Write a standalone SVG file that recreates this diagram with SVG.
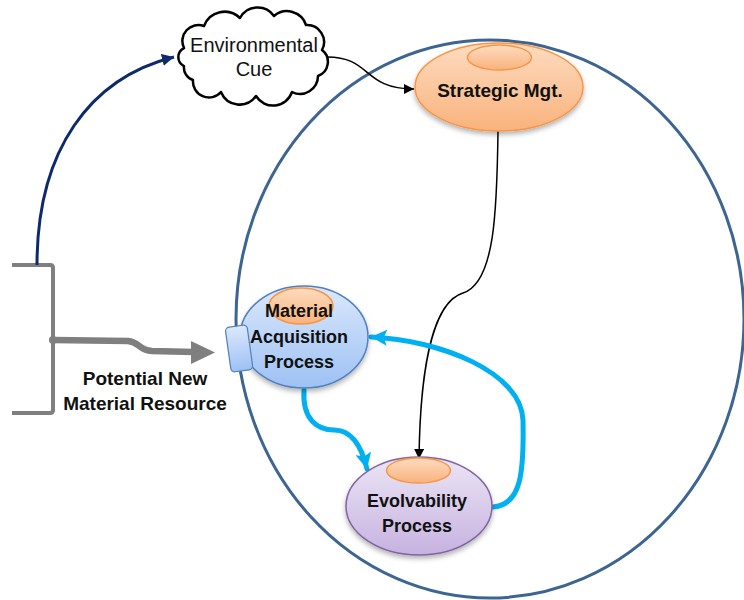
<svg xmlns="http://www.w3.org/2000/svg" width="744" height="600" viewBox="0 0 744 600">
  <defs>
    <linearGradient id="gOrange" x1="0" y1="0" x2="0" y2="1">
      <stop offset="0" stop-color="#fddcc0"/>
      <stop offset="1" stop-color="#f9b27c"/>
    </linearGradient>
    <linearGradient id="gBlue" x1="0" y1="0" x2="0" y2="1">
      <stop offset="0" stop-color="#dbe8fb"/>
      <stop offset="1" stop-color="#9dc1f4"/>
    </linearGradient>
    <linearGradient id="gPurple" x1="0" y1="0" x2="0" y2="1">
      <stop offset="0" stop-color="#ece5f5"/>
      <stop offset="1" stop-color="#c6b2e0"/>
    </linearGradient>
    <filter id="shadow" x="-20%" y="-20%" width="140%" height="150%">
      <feDropShadow dx="0" dy="3" stdDeviation="2.5" flood-color="#000" flood-opacity="0.3"/>
    </filter>
    <marker id="mBlack" viewBox="0 0 10 10" refX="10" refY="5" markerWidth="10" markerHeight="10" markerUnits="userSpaceOnUse" orient="auto">
      <path d="M0,0 L10,5 L0,10 z" fill="#000"/>
    </marker>
    <marker id="mNavy" viewBox="0 0 10 10" refX="10" refY="5" markerWidth="12" markerHeight="12" markerUnits="userSpaceOnUse" orient="auto">
      <path d="M0,0 L10,5 L0,10 z" fill="#0d2a6b"/>
    </marker>
    <marker id="mCyan" viewBox="0 0 10 10" refX="10" refY="5" markerWidth="16" markerHeight="16" markerUnits="userSpaceOnUse" orient="auto">
      <path d="M0,0 L10,5 L0,10 L2,5 z" fill="#00b0f0"/>
    </marker>
  </defs>
  <style>
    .lbl { font-family: "Liberation Sans", Arial, sans-serif; font-size: 18px; fill: #111; text-anchor: middle; }
    .b { font-weight: bold; }
    .big { font-size: 19px; }
    .inner { fill: url(#gOrange); stroke: #f79646; stroke-width: 1.5; }
    .cyan { fill: none; stroke: #00b0f0; stroke-width: 5; stroke-linecap: round; }
  </style>

  <!-- organisation boundary -->
  <g id="boundary">
    <ellipse cx="490" cy="319" rx="254" ry="279" fill="none" stroke="#3d6592" stroke-width="3"/>
  </g>

  <!-- resource bracket and inflow -->
  <g id="resource">
    <path d="M12,265 L50,265 Q53,265 53,268 L53,410 Q53,413 50,413 L12,413" fill="none" stroke="#7f7f7f" stroke-width="4"/>
    <circle cx="53" cy="340" r="4" fill="#7f7f7f"/>
    <path d="M53,340 L128,341 C140,342 138,350 152,351 L194,352" fill="none" stroke="#7f7f7f" stroke-width="6.5"/>
    <polygon points="191,341 215,352.5 191,364" fill="#7f7f7f"/>
    <text class="lbl b big" x="145" y="385">Potential New</text>
    <text class="lbl b big" x="145" y="410">Material Resource</text>
  </g>

  <!-- connectors -->
  <g id="connectors">
    <path d="M37,265 C37,150 90,78 174,57" fill="none" stroke="#0d2a6b" stroke-width="3" marker-end="url(#mNavy)"/>
    <path d="M327,57 C372,57 362,89 414,89" fill="none" stroke="#000" stroke-width="1.5" marker-end="url(#mBlack)"/>
    <path d="M498,131 C497,210 495,283 463,293 C430,303 420,380 419,459" fill="none" stroke="#000" stroke-width="1.5" marker-end="url(#mBlack)"/>
    <path class="cyan" d="M304,390 C302,420 318,430 334,430 C352,430 362,448 367,469" marker-end="url(#mCyan)"/>
    <path class="cyan" d="M493,507 C522,505 524,470 523,420 C521,372 440,340 371,337" marker-end="url(#mCyan)"/>
  </g>

  <!-- Environmental Cue cloud -->
  <g id="env-cue">
    <path d="M184,48 A16,16 0 0 1 204,26 A22,22 0 0 1 240,18 A20,20 0 0 1 274,16 A20,20 0 0 1 306,25 A17,17 0 0 1 322,50 A15,15 0 0 1 318,76 A18,18 0 0 1 292,92 A20,20 0 0 1 256,96 A20,20 0 0 1 221,92 A16,16 0 0 1 193,80 A13,13 0 0 1 184,66 A10,10 0 0 1 184,48 z" fill="#fff" stroke="#000" stroke-width="2.5" stroke-linejoin="round"/>
    <text class="lbl" x="254" y="52" style="font-size:20px">Environmental</text>
    <text class="lbl" x="254" y="76" style="font-size:20px">Cue</text>
  </g>

  <!-- Strategic Mgt. -->
  <g id="strategic">
    <ellipse cx="499" cy="87" rx="84" ry="44" fill="url(#gOrange)" stroke="#f79646" stroke-width="1.5" filter="url(#shadow)"/>
    <ellipse class="inner" cx="499.5" cy="57.5" rx="32" ry="12.5"/>
    <text class="lbl b big" x="500" y="97">Strategic Mgt.</text>
  </g>

  <!-- Material Acquisition Process -->
  <g id="acquisition">
    <ellipse cx="304" cy="337" rx="64" ry="51" fill="url(#gBlue)" stroke="#4f81bd" stroke-width="1.5" filter="url(#shadow)"/>
    <ellipse class="inner" cx="301" cy="306" rx="32" ry="18"/>
    <rect x="228" y="326" width="22" height="45" rx="4" fill="url(#gBlue)" stroke="#4f81bd" stroke-width="1.2" transform="rotate(-8 239 348)"/>
    <text class="lbl b" x="299" y="317">Material</text>
    <text class="lbl b" x="299" y="343">Acquisition</text>
    <text class="lbl b" x="299" y="368">Process</text>
  </g>

  <!-- Evolvability Process -->
  <g id="evolvability">
    <ellipse cx="419" cy="506" rx="73" ry="49" fill="url(#gPurple)" stroke="#8064a2" stroke-width="1.5" filter="url(#shadow)"/>
    <ellipse class="inner" cx="418.5" cy="470.5" rx="32" ry="12.5"/>
    <text class="lbl b" x="417" y="507">Evolvability</text>
    <text class="lbl b" x="417" y="532">Process</text>
  </g>
</svg>
